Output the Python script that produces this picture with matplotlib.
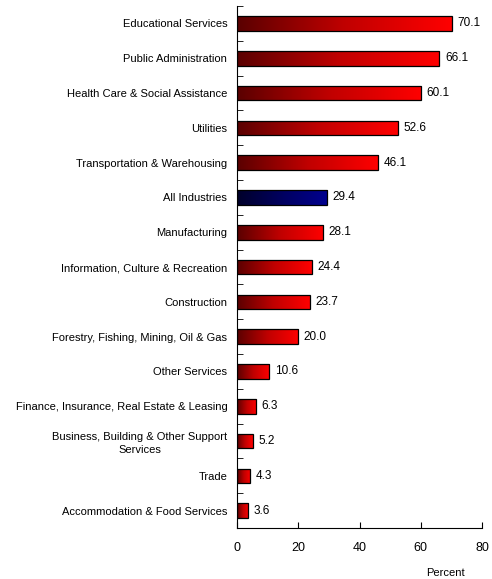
import matplotlib
matplotlib.use('Agg')
import matplotlib.pyplot as plt
import numpy as np
from matplotlib.colors import LinearSegmentedColormap

plt.rcParams['font.family'] = ['Liberation Sans', 'DejaVu Sans']

industries = [
    'Educational Services',
    'Public Administration',
    'Health Care & Social Assistance',
    'Utilities',
    'Transportation & Warehousing',
    'All Industries',
    'Manufacturing',
    'Information, Culture & Recreation',
    'Construction',
    'Forestry, Fishing, Mining, Oil & Gas',
    'Other Services',
    'Finance, Insurance, Real Estate & Leasing',
    'Business, Building & Other Support\nServices',
    'Trade',
    'Accommodation & Food Services',
]
percent = [70.1, 66.1, 60.1, 52.6, 46.1, 29.4, 28.1, 24.4, 23.7, 20.0,
           10.6, 6.3, 5.2, 4.3, 3.6]
highlight = 'All Industries'

red_grad = LinearSegmentedColormap.from_list('redgrad', ['#5a0000', '#c00000', '#ff0000'])
blue_grad = LinearSegmentedColormap.from_list('bluegrad', ['#00002a', '#000060', '#000090'])

fig = plt.figure(figsize=(4.92, 5.79), dpi=100)
ax = fig.add_axes([0.4817, 0.088, 0.498, 0.9016])

n = len(industries)
ypos = np.arange(n)
bars = ax.barh(ypos, percent, height=0.42, color='none', edgecolor='black',
               linewidth=0.9, zorder=3)

# fill each bar with a left-to-right gradient, clipped to the bar outline
grad = np.linspace(0, 1, 256).reshape(1, -1)
for bar, name in zip(bars, industries):
    x0, y0 = bar.get_x(), bar.get_y()
    w, h = bar.get_width(), bar.get_height()
    cmap = blue_grad if name == highlight else red_grad
    im = ax.imshow(grad, extent=[x0, x0 + w, y0, y0 + h], cmap=cmap,
                   aspect='auto', zorder=2, interpolation='bilinear')
    im.set_clip_path(bar)

for y, v in zip(ypos, percent):
    ax.text(v + 1.8, y, f'{v:.1f}', va='center', ha='left', fontsize=8.5)

ax.set_xlim(0, 80)
ax.set_ylim(n - 0.5, -0.5)
ax.set_xticks([0, 20, 40, 60, 80])
ax.set_yticks(ypos)
ax.set_yticklabels(industries, fontsize=8)
for lbl in ax.get_yticklabels():
    lbl.set_multialignment('center')
    lbl.set_linespacing(1.4)
ax.set_yticks(np.arange(-0.5, n, 1), minor=True)
ax.tick_params(axis='y', which='major', length=0, pad=7)
ax.tick_params(axis='y', which='minor', direction='in', length=4)
ax.tick_params(axis='x', direction='in', length=4, labelsize=9, pad=10)

ax.spines['top'].set_visible(False)
ax.spines['right'].set_visible(False)

fig.text(445 / 492, 1 - 573 / 579, 'Percent', ha='center', va='center', fontsize=8)

fig.savefig('out.png', dpi=100)
